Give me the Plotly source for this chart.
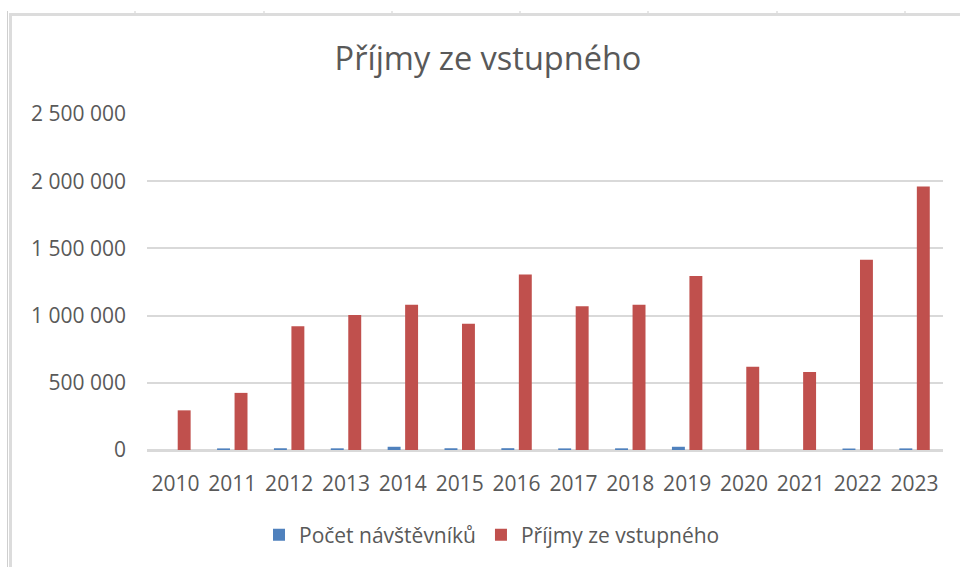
import plotly.graph_objects as go

years = ["2010", "2011", "2012", "2013", "2014", "2015", "2016",
         "2017", "2018", "2019", "2020", "2021", "2022", "2023"]
visitors = [0, 12000, 13000, 12500, 24000, 13000, 13500,
            12000, 12500, 24000, 0, 0, 11000, 12000]
revenue = [295000, 425000, 920000, 1005000, 1080000, 940000, 1305000,
           1070000, 1080000, 1295000, 620000, 580000, 1415000, 1960000]
y_ticks = [0, 500000, 1000000, 1500000, 2000000, 2500000]

W, H = 960, 567
L, R, T, B = 147, 17, 114, 117
PW, PH = W - L - R, H - T - B

FONT = "Open Sans"
TXT = "#595959"
GRID = "#d9d9d9"

fig = go.Figure()
fig.add_trace(go.Bar(name="Počet návštěvníků", x=years, y=visitors,
                     marker=dict(color="#4F81BD", line=dict(width=0))))
fig.add_trace(go.Bar(name="Příjmy ze vstupného", x=years, y=revenue,
                     marker=dict(color="#C0504D", line=dict(width=0))))


def px_x(p):
    return (p - L) / PW


def px_y(p):
    return (H - B - p) / PH


frame = "#dcdcdc"
shapes = [
    dict(type="line", xref="paper", yref="paper", x0=px_x(9), x1=px_x(960),
         y0=px_y(14.5), y1=px_y(14.5), line=dict(color=frame, width=3)),
    dict(type="line", xref="paper", yref="paper", x0=px_x(7.5), x1=px_x(7.5),
         y0=px_y(11), y1=px_y(567), line=dict(color="#cfcfcf", width=1)),
    dict(type="line", xref="paper", yref="paper", x0=px_x(10.5), x1=px_x(10.5),
         y0=px_y(14), y1=px_y(567), line=dict(color=frame, width=3)),
]
for tx in [135, 264, 392, 520, 648, 777, 905]:
    shapes.append(dict(type="line", xref="paper", yref="paper", x0=px_x(tx), x1=px_x(tx),
                       y0=px_y(11), y1=px_y(13), line=dict(color="#cfcfcf", width=1)))

fig.update_layout(
    width=W, height=H,
    margin=dict(l=L, r=R, t=T, b=B, autoexpand=False),
    paper_bgcolor="white", plot_bgcolor="white",
    font=dict(family=FONT, size=21, color=TXT),
    separators=". ",
    title=dict(text="Příjmy ze vstupného", font=dict(size=32.5, color=TXT, family=FONT),
               xref="container", x=488 / W, xanchor="center",
               yref="container", y=1 - 59 / H, yanchor="middle"),
    barmode="group", bargap=0.385, bargroupgap=0.26,
    showlegend=True,
    legend=dict(orientation="h", xref="container", x=492 / W, xanchor="center",
                yref="container", y=1 - 535 / H, yanchor="middle",
                font=dict(size=21, color=TXT, family=FONT), itemwidth=30),
    shapes=shapes,
)
fig.update_xaxes(showgrid=False, showline=True, linecolor=GRID, linewidth=2,
                 ticks="", ticklabelstandoff=14, tickfont=dict(size=21, color=TXT))
fig.update_yaxes(range=[0, 2500000], tickvals=y_ticks, tickformat=",d",
                 showgrid=True, gridcolor=GRID, gridwidth=2,
                 zeroline=True, zerolinecolor=GRID, zerolinewidth=2,
                 showline=False, ticks="", ticklabelstandoff=20,
                 tickfont=dict(size=21, color=TXT))

fig.write_html("out.html", config={"displayModeBar": False, "staticPlot": True},
               post_script="document.body.style.margin='0';document.body.style.overflow='hidden';")
